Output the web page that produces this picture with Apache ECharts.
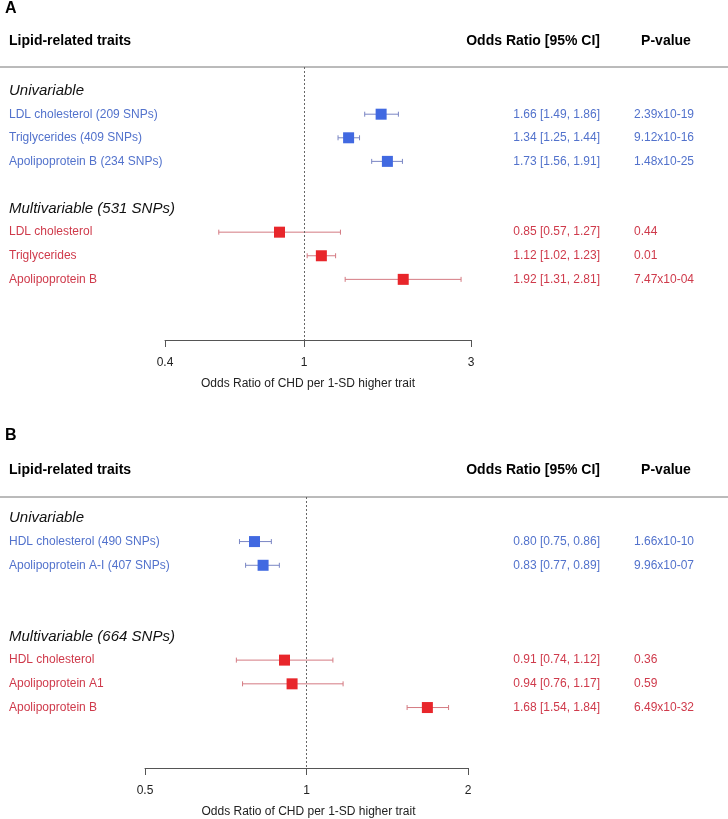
<!DOCTYPE html>
<html>
<head>
<meta charset="utf-8">
<script src="https://cdn.jsdelivr.net/npm/echarts@6/dist/echarts.min.js"></script>
<style>
html,body{margin:0;padding:0;background:#fff;}
#chart{width:728px;height:819px;}
</style>
</head>
<body>
<div id="chart"></div>
<script>
// ---------- Data ----------
const headersA = ['Univariable', 'Multivariable (531 SNPs)'];
const headersB = ['Univariable', 'Multivariable (664 SNPs)'];
const headerRows = [0, 5];

const namesA_uni = ['LDL cholesterol (209 SNPs)', 'Triglycerides (409 SNPs)', 'Apolipoprotein B (234 SNPs)'];
const orA_uni = [1.66, 1.34, 1.73];
const loA_uni = [1.49, 1.25, 1.56];
const hiA_uni = [1.86, 1.44, 1.91];
const pA_uni = ['2.39x10-19', '9.12x10-16', '1.48x10-25'];
const rowsA_uni = [1, 2, 3];

const namesA_multi = ['LDL cholesterol', 'Triglycerides', 'Apolipoprotein B'];
const orA_multi = [0.85, 1.12, 1.92];
const loA_multi = [0.57, 1.02, 1.31];
const hiA_multi = [1.27, 1.23, 2.81];
const pA_multi = ['0.44', '0.01', '7.47x10-04'];
const rowsA_multi = [6, 7, 8];

const namesB_uni = ['HDL cholesterol (490 SNPs)', 'Apolipoprotein A-I (407 SNPs)'];
const orB_uni = [0.80, 0.83];
const loB_uni = [0.75, 0.77];
const hiB_uni = [0.86, 0.89];
const pB_uni = ['1.66x10-10', '9.96x10-07'];
const rowsB_uni = [1, 2];

const namesB_multi = ['HDL cholesterol', 'Apolipoprotein A1', 'Apolipoprotein B'];
const orB_multi = [0.91, 0.94, 1.68];
const loB_multi = [0.74, 0.76, 1.54];
const hiB_multi = [1.12, 1.17, 1.84];
const pB_multi = ['0.36', '0.59', '6.49x10-32'];
const rowsB_multi = [6, 7, 8];

const ticksA = [0.4, 1, 3];
const ticksB = [0.5, 1, 2];
const axisTitle = 'Odds Ratio of CHD per 1-SD higher trait';

// ---------- Styling ----------
const FONT = '"Liberation Sans", Arial, Helvetica, sans-serif';
const BLUE = '#4169E1', BLUE_TXT = '#5272cc', BLUE_LINE = '#7a86c4';
const RED = '#e8262b', RED_TXT = '#cf3a4b', RED_LINE = '#d47a82';

function fmt(v){ return v.toFixed(2); }
function build(names, or, lo, hi, p, rows, grp){
  return names.map((n, i) => [Math.log10(or[i]), Math.log10(lo[i]), Math.log10(hi[i]), rows[i], grp, n,
    fmt(or[i]) + ' [' + fmt(lo[i]) + ', ' + fmt(hi[i]) + ']', p[i]]);
}
const dataA = build(namesA_uni, orA_uni, loA_uni, hiA_uni, pA_uni, rowsA_uni, 0)
  .concat(build(namesA_multi, orA_multi, loA_multi, hiA_multi, pA_multi, rowsA_multi, 1));
const dataB = build(namesB_uni, orB_uni, loB_uni, hiB_uni, pB_uni, rowsB_uni, 0)
  .concat(build(namesB_multi, orB_multi, loB_multi, hiB_multi, pB_multi, rowsB_multi, 1));

function renderRow(params, api){
  const est = api.value(0), lo = api.value(1), hi = api.value(2), row = api.value(3), grp = api.value(4);
  const d = params.dataIndex;
  const item = (params.seriesIndex === 0 ? dataA : dataB)[d];
  const pe = api.coord([est, row]);
  const pl = api.coord([lo, row]);
  const ph = api.coord([hi, row]);
  const y = pe[1];
  const sq = 11, cap = 2.5;
  const mc = grp === 0 ? BLUE : RED;
  const lc = grp === 0 ? BLUE_LINE : RED_LINE;
  const tc = grp === 0 ? BLUE_TXT : RED_TXT;
  return {
    type: 'group',
    children: [
      {type:'line', shape:{x1:pl[0], y1:y, x2:ph[0], y2:y}, style:{stroke:lc, lineWidth:1}},
      {type:'line', shape:{x1:pl[0], y1:y-cap, x2:pl[0], y2:y+cap}, style:{stroke:lc, lineWidth:1}},
      {type:'line', shape:{x1:ph[0], y1:y-cap, x2:ph[0], y2:y+cap}, style:{stroke:lc, lineWidth:1}},
      {type:'rect', shape:{x:pe[0]-sq/2, y:y-sq/2, width:sq, height:sq}, style:{fill:mc}},
      {type:'text', style:{x:9, y:y, text:item[5], fill:tc, font:'12px ' + FONT, textAlign:'left', textVerticalAlign:'middle'}},
      {type:'text', style:{x:600, y:y, text:item[6], fill:tc, font:'12px ' + FONT, textAlign:'right', textVerticalAlign:'middle'}},
      {type:'text', style:{x:634, y:y, text:item[7], fill:tc, font:'12px ' + FONT, textAlign:'left', textVerticalAlign:'middle'}}
    ]
  };
}
function renderHeader(labels){
  return function(params, api){
    const row = api.value(1);
    const p = api.coord([0, row]);
    return {type:'text', style:{x:9, y:p[1], text:labels[params.dataIndex], fill:'#111',
      font:'italic 15px ' + FONT, textAlign:'left', textVerticalAlign:'middle'}};
  };
}

function xAxisFor(ticks, gridIndex, pad){
  const lv = ticks.map(t => Math.log10(t));
  return {
    type:'value', gridIndex: gridIndex,
    min: Math.log10(ticks[0]), max: Math.log10(ticks[ticks.length-1]),
    splitLine:{show:false},
    axisLine:{show:true, onZero:false, lineStyle:{color:'#555', width:1}},
    axisTick:{show:true, length:7, lineStyle:{color:'#555'}, customValues: lv},
    axisLabel:{show:true, customValues: lv, margin:17, fontSize:12, color:'#222', fontFamily:FONT,
      formatter: v => String(parseFloat(Math.pow(10, v).toPrecision(6)))},
    name: axisTitle, nameLocation:'middle', nameGap:38,
    nameTextStyle:{fontSize:12, color:'#222', fontFamily:FONT, padding: pad}
  };
}

const chart = echarts.init(document.getElementById('chart'), null, {renderer:'canvas'});
const option = {
  animation:false,
  backgroundColor:'#fff',
  grid:[
    {left:165, width:306, top:67, height:273},
    {left:145, width:323, top:497, height:272}
  ],
  xAxis:[ xAxisFor(ticksA, 0, [0, 20, 0, 0]), xAxisFor(ticksB, 1, [0, 0, 0, 4]) ],
  yAxis:[
    {type:'value', gridIndex:0, min:-1, max:10.57, inverse:true, show:false},
    {type:'value', gridIndex:1, min:-0.88, max:10.55, inverse:true, show:false}
  ],
  series:[
    {type:'custom', xAxisIndex:0, yAxisIndex:0, data:dataA, renderItem:renderRow,
      markLine:{silent:true, symbol:'none', label:{show:false},
        lineStyle:{color:'#666', type:[2,2], width:1}, data:[{xAxis:0}]}},
    {type:'custom', xAxisIndex:1, yAxisIndex:1, data:dataB, renderItem:renderRow,
      markLine:{silent:true, symbol:'none', label:{show:false},
        lineStyle:{color:'#666', type:[2,2], width:1}, data:[{xAxis:0}]}},
    {type:'custom', xAxisIndex:0, yAxisIndex:0, data:headerRows.map(r => [0, r]), renderItem:renderHeader(headersA)},
    {type:'custom', xAxisIndex:1, yAxisIndex:1, data:headerRows.map(r => [0, r]), renderItem:renderHeader(headersB)}
  ],
  graphic:[
    {type:'text', left:5, top:1, style:{text:'A', font:'bold 16px ' + FONT, fill:'#000'}},
    {type:'text', left:5, top:428, style:{text:'B', font:'bold 16px ' + FONT, fill:'#000'}},
    {type:'text', x:9, y:41, style:{text:'Lipid-related traits', font:'bold 14px ' + FONT, fill:'#000', textVerticalAlign:'middle'}},
    {type:'text', x:600, y:41, style:{text:'Odds Ratio [95% CI]', font:'bold 14px ' + FONT, fill:'#000', textAlign:'right', textVerticalAlign:'middle'}},
    {type:'text', x:666, y:41, style:{text:'P-value', font:'bold 14px ' + FONT, fill:'#000', textAlign:'center', textVerticalAlign:'middle'}},
    {type:'line', shape:{x1:0, y1:67, x2:728, y2:67}, style:{stroke:'#777', lineWidth:1}},
    {type:'text', x:9, y:470, style:{text:'Lipid-related traits', font:'bold 14px ' + FONT, fill:'#000', textVerticalAlign:'middle'}},
    {type:'text', x:600, y:470, style:{text:'Odds Ratio [95% CI]', font:'bold 14px ' + FONT, fill:'#000', textAlign:'right', textVerticalAlign:'middle'}},
    {type:'text', x:666, y:470, style:{text:'P-value', font:'bold 14px ' + FONT, fill:'#000', textAlign:'center', textVerticalAlign:'middle'}},
    {type:'line', shape:{x1:0, y1:497, x2:728, y2:497}, style:{stroke:'#777', lineWidth:1}}
  ]
};
chart.setOption(option);
</script>
</body>
</html>
